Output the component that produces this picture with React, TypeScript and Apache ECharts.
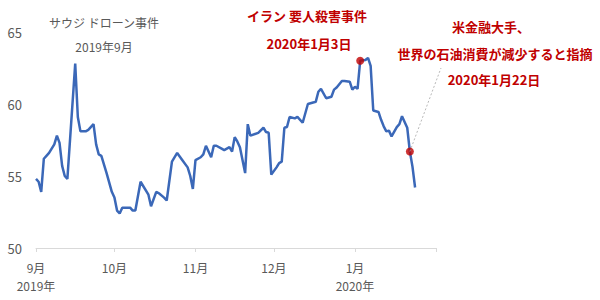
import React, { useEffect, useRef } from "react";
import * as echarts from "echarts";

const dates = [
  "2019-09-01","2019-09-02","2019-09-03","2019-09-04","2019-09-05","2019-09-06","2019-09-08","2019-09-09","2019-09-10","2019-09-11",
  "2019-09-12","2019-09-13","2019-09-16","2019-09-17","2019-09-18","2019-09-20","2019-09-21","2019-09-23","2019-09-24","2019-09-25",
  "2019-09-26","2019-09-28","2019-09-30","2019-10-01","2019-10-02","2019-10-03","2019-10-04","2019-10-07","2019-10-08","2019-10-09",
  "2019-10-11","2019-10-14","2019-10-15","2019-10-17","2019-10-18","2019-10-20","2019-10-21","2019-10-23","2019-10-25","2019-10-27",
  "2019-10-29","2019-10-30","2019-10-31","2019-11-01","2019-11-03","2019-11-04","2019-11-05","2019-11-07","2019-11-08","2019-11-09",
  "2019-11-11","2019-11-12","2019-11-14","2019-11-15","2019-11-16","2019-11-17","2019-11-18","2019-11-20","2019-11-21","2019-11-22",
  "2019-11-25","2019-11-27","2019-11-28","2019-11-29","2019-11-30","2019-12-02","2019-12-03","2019-12-04","2019-12-05","2019-12-06",
  "2019-12-07","2019-12-09","2019-12-10","2019-12-12","2019-12-14","2019-12-16","2019-12-17","2019-12-18","2019-12-19","2019-12-21",
  "2019-12-23","2019-12-24","2019-12-25","2019-12-27","2019-12-28","2019-12-30","2019-12-31","2020-01-01","2020-01-02","2020-01-03",
  "2020-01-05","2020-01-06","2020-01-07","2020-01-08","2020-01-10","2020-01-11","2020-01-12","2020-01-13","2020-01-14","2020-01-15",
  "2020-01-17","2020-01-18","2020-01-19","2020-01-21","2020-01-22","2020-01-23","2020-01-24"
];
const prices = [
  54.8, 54.6, 53.9, 56.2, 56.4, 56.6, 57.2, 57.8, 57.3, 55.7,
  55.0, 54.8, 62.8, 59.1, 58.1, 58.1, 58.2, 58.6, 57.2, 56.5,
  56.4, 55.2, 53.9, 53.5, 52.6, 52.4, 52.8, 52.8, 52.6, 52.6,
  54.6, 53.7, 52.9, 53.9, 53.8, 53.5, 53.3, 56.0, 56.6, 56.1,
  55.6, 55.0, 54.1, 56.1, 56.3, 56.5, 57.1, 56.3, 57.1, 57.1,
  56.9, 56.8, 57.0, 56.7, 57.7, 57.4, 57.0, 55.2, 58.6, 57.8,
  58.0, 58.35, 58.05, 58.0, 55.1, 55.6, 55.9, 56.0, 58.35, 58.4,
  59.1, 59.0, 59.1, 58.7, 60.0, 60.1, 60.15, 60.85, 61.05, 60.4,
  60.5, 61.0, 61.15, 61.6, 61.6, 61.55, 61.0, 61.2, 61.05, 63.0,
  63.05, 63.2, 62.65, 59.55, 59.45, 58.9, 58.45, 58.1, 58.15, 57.75,
  58.4, 58.6, 59.15, 58.35, 56.7, 55.65, 54.2
];

const eventDates = ["2020-01-03", "2020-01-22"];
const monthTicks = ["2019-09-01","2019-10-01","2019-11-01","2019-12-01","2020-01-01","2020-02-01"];
const yTicks = [50, 55, 60, 65];

const sauText = ["サウジ ドローン事件", "2019年9月"];
const iranText = ["イラン 要人殺害事件", "2020年1月3日"];
const bankText = ["米金融大手、", "世界の石油消費が減少すると指摘", "2020年1月22日"];

const ts = (s: string) => {
  const [y, m, d] = s.split("-").map(Number);
  return new Date(y, m - 1, d).getTime();
};

const FONT = '"Noto Sans CJK JP", "Noto Sans", sans-serif';

export default function App() {
  const ref = useRef<HTMLDivElement>(null);
  useEffect(() => {
    if (!ref.current) return;
    const chart = echarts.init(ref.current, null, { renderer: "svg" });
    const lineData = dates.map((d, i) => [ts(d), prices[i]]);
    const eventData = eventDates.map((d) => [ts(d), prices[dates.indexOf(d)]]);
    const tickVals = monthTicks.map(ts);
    const labelVals = tickVals.slice(0, tickVals.length - 1);

    const redText = (t: string, x: number, y: number) => ({
      type: "text",
      x,
      y,
      style: {
        text: t,
        fill: "#C00000",
        font: `bold 13px ${FONT}`,
        align: "center",
        verticalAlign: "middle",
      },
    });
    const grayText = (t: string, x: number, y: number) => ({
      type: "text",
      x,
      y,
      style: {
        text: t,
        fill: "#595959",
        font: `12px ${FONT}`,
        align: "center",
        verticalAlign: "middle",
      },
    });

    chart.setOption({
      animation: false,
      backgroundColor: "#ffffff",
      textStyle: { fontFamily: FONT },
      grid: { left: 36, right: 164, top: 32, bottom: 52, containLabel: false },
      xAxis: {
        type: "value",
        min: tickVals[0],
        max: tickVals[tickVals.length - 1],
        axisLine: { show: true, lineStyle: { color: "#D9D9D9", width: 1 } },
        axisTick: {
          show: true,
          length: 4,
          customValues: tickVals,
          lineStyle: { color: "#D9D9D9" },
        },
        splitLine: { show: false },
        axisLabel: {
          customValues: labelVals,
          color: "#595959",
          fontSize: 12,
          lineHeight: 17.5,
          margin: 11,
          hideOverlap: false,
          formatter: (v: number) => {
            const d = new Date(v);
            const m = d.getMonth();
            let s = `${m + 1}月`;
            if (m === 8 || m === 0) s += `\n${d.getFullYear()}年`;
            return s;
          },
        },
      },
      yAxis: {
        type: "value",
        min: yTicks[0],
        max: yTicks[yTicks.length - 1],
        interval: 5,
        axisLine: { show: false },
        axisTick: { show: false },
        splitLine: { show: false },
        axisLabel: { color: "#595959", fontSize: 13, margin: 14 },
      },
      series: [
        {
          type: "line",
          data: lineData,
          showSymbol: false,
          symbol: "none",
          lineStyle: { color: "#3B68B8", width: 2.5 },
          z: 2,
          markLine: {
            silent: true,
            symbol: ["none", "none"],
            label: { show: false },
            lineStyle: { color: "#A6A6A6", type: [2, 2], width: 0.8 },
            data: [[{ coord: eventData[1] }, { x: 441, y: 68 }]],
          },
        },
        {
          type: "scatter",
          data: eventData,
          symbol: "circle",
          symbolSize: 8,
          itemStyle: { color: "#C00000" },
          z: 3,
        },
      ],
      graphic: [
        grayText(sauText[0], 104, 22),
        grayText(sauText[1], 104, 46),
        redText(iranText[0], 307, 15),
        redText(iranText[1], 309, 43),
        redText(bankText[0], 491, 26),
        redText(bankText[1], 495, 53),
        redText(bankText[2], 494, 79),
      ],
    });
    return () => chart.dispose();
  }, []);
  return (
    <div
      ref={ref}
      style={{ position: "fixed", left: 0, top: 0, width: 600, height: 300, background: "#fff" }}
    />
  );
}
